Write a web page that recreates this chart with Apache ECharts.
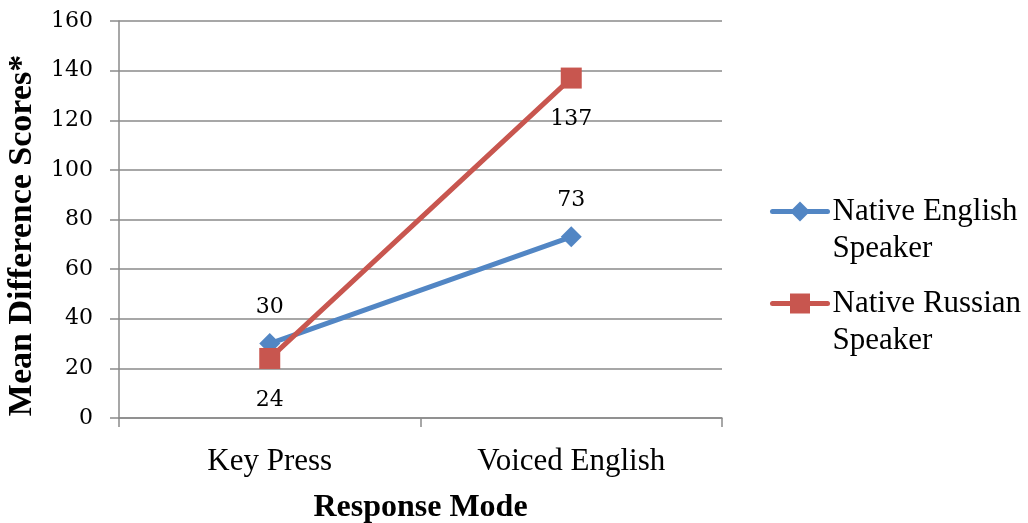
<!DOCTYPE html>
<html>
<head>
<meta charset="utf-8">
<script src="https://cdn.jsdelivr.net/npm/echarts@6/dist/echarts.min.js"></script>
<style>
  html, body { margin: 0; padding: 0; background: #ffffff; }
  #chart { width: 1028px; height: 523px; }
</style>
</head>
<body>
<div id="chart"></div>
<script>
// Response modes on the x axis
const categories = ['Key Press', 'Voiced English'];
// Mean difference scores per speaker group
const englishSpeaker = [30, 73];
const russianSpeaker = [24, 137];
const seriesNames = ['Native English\nSpeaker', 'Native Russian\nSpeaker'];
// Value axis range
const yMin = 0, yMax = 160, yStep = 20;

const gridGrey = '#8a8a8a';
const blue = '#5286C4';
const red = '#C8564F';
const serif = 'Liberation Serif';
const numFont = 'DejaVu Serif';

const chart = echarts.init(document.getElementById('chart'), null, { renderer: 'canvas' });

chart.setOption({
  backgroundColor: '#ffffff',
  animation: false,
  grid: {
    left: 119, right: 306, top: 21, bottom: 105,
    containLabel: false,
    outerBoundsMode: 'none'
  },
  legend: {
    orient: 'vertical',
    left: 770,
    top: 156,
    padding: 0,
    itemWidth: 55,
    itemHeight: 25,
    itemGap: -19,
    lineStyle: { width: 5, cap: 'round' },
    // a leading blank line keeps the icon level with the first text line
    formatter: name => '\n' + name,
    textStyle: {
      fontFamily: serif,
      fontSize: 31,
      lineHeight: 37,
      color: '#000'
    },
    data: seriesNames
  },
  xAxis: {
    type: 'category',
    data: categories,
    boundaryGap: true,
    axisLine: { lineStyle: { color: gridGrey, width: 1.5 } },
    axisTick: { show: true, length: 9, lineStyle: { color: gridGrey, width: 1.5 } },
    axisLabel: { fontFamily: serif, fontSize: 31, color: '#000', margin: 28 },
    name: 'Response Mode',
    nameLocation: 'middle',
    nameGap: 74,
    nameTextStyle: { fontFamily: serif, fontSize: 32, fontWeight: 'bold', color: '#000' }
  },
  yAxis: {
    type: 'value',
    min: yMin,
    max: yMax,
    interval: yStep,
    axisLine: { show: true, lineStyle: { color: gridGrey, width: 1.5 } },
    axisTick: { show: true, length: 9, lineStyle: { color: gridGrey, width: 1.5 } },
    splitLine: { show: true, lineStyle: { color: gridGrey, width: 1.5 } },
    axisLabel: { fontFamily: numFont, fontSize: 22, color: '#000', margin: 26 },
    name: 'Mean Difference Scores*',
    nameLocation: 'middle',
    nameGap: 80,
    nameTextStyle: {
      fontFamily: serif, fontSize: 34, fontWeight: 'bold', color: '#000',
      padding: [0, 32, 0, 0]
    }
  },
  series: [
    {
      name: seriesNames[0],
      type: 'line',
      data: englishSpeaker,
      symbol: 'diamond',
      symbolSize: 21,
      lineStyle: { color: blue, width: 5, cap: 'round' },
      itemStyle: { color: blue },
      label: {
        show: true,
        position: 'top',
        distance: 15,
        fontFamily: numFont,
        fontSize: 22,
        color: '#000'
      }
    },
    {
      name: seriesNames[1],
      type: 'line',
      data: russianSpeaker,
      symbol: 'rect',
      symbolSize: 21,
      lineStyle: { color: red, width: 5, cap: 'round' },
      itemStyle: { color: red },
      label: {
        show: true,
        position: 'bottom',
        distance: 20,
        fontFamily: numFont,
        fontSize: 22,
        color: '#000'
      }
    }
  ]
});
</script>
</body>
</html>
